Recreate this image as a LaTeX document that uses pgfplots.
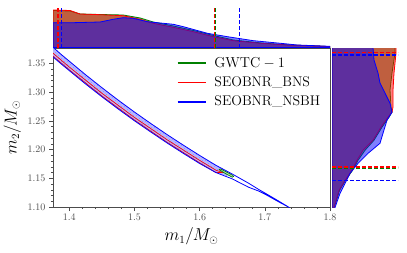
\documentclass[border=0pt]{standalone}
\usepackage{pgfplots}
\pgfplotsset{compat=1.18}
\usetikzlibrary{patterns}
\definecolor{mgreen}{RGB}{0,128,0}
\definecolor{mred}{RGB}{255,0,0}
\definecolor{mblue}{RGB}{0,0,255}
\begin{document}
\begin{tikzpicture}
\useasboundingbox (0pt,0pt) rectangle (407pt,-252pt);
% ---------------- top marginal ----------------
\begin{axis}[at={(53pt,-47.5pt)}, anchor=south west, scale only axis,
  width=277pt, height=39.5pt, xmin=1.375, xmax=1.8, ymin=0, ymax=39.5, hide axis]
\addplot[color=mgreen, line width=0.8pt, fill=mgreen, fill opacity=0.5] coordinates {
(1.375,0)(1.375,37)(1.4012,36.5)(1.4165,33.5)(1.4473,33)(1.4827,32.5)(1.5088,29.5)(1.5288,25.5)(1.5596,21.5)(1.5904,17)(1.6212,12)(1.6519,7.5)(1.6935,4.6)(1.735,2.6)(1.7812,1.5)(1.8,0.8)(1.8,0)(1.375,0)};
\addplot[color=mred, line width=0.8pt, fill=mred, fill opacity=0.5] coordinates {
(1.375,0)(1.375,37.5)(1.4012,37)(1.4165,33.5)(1.4473,32.8)(1.4827,31.8)(1.5088,28.2)(1.5288,24.2)(1.5596,20.2)(1.5904,15.8)(1.6212,10.8)(1.6519,6.8)(1.6935,4.2)(1.735,2.5)(1.7812,1.5)(1.8,0.8)(1.8,0)(1.375,0)};
\addplot[color=mblue, line width=0.8pt, fill=mblue, fill opacity=0.5] coordinates {
(1.375,0)(1.375,24.8)(1.4058,24.8)(1.4473,25.5)(1.4673,28.2)(1.4827,29.8)(1.4981,29.2)(1.5196,25.8)(1.5596,23.2)(1.575,20.8)(1.6119,14.2)(1.6427,10.8)(1.6827,6.8)(1.7242,4.2)(1.75,2.5)(1.8,1.2)(1.8,0)(1.375,0)};
\addplot[color=mgreen, line width=1.3pt, dash pattern=on 4pt off 2pt] coordinates {(1.383,0)(1.383,39.5)};
\addplot[color=mred, line width=1.3pt, dash pattern=on 4pt off 2pt] coordinates {(1.3827,0)(1.3827,39.5)};
\addplot[color=mblue, line width=1.3pt, dash pattern=on 4pt off 2pt] coordinates {(1.3878,0)(1.3878,39.5)};
\addplot[color=mgreen, line width=1.3pt, dash pattern=on 4pt off 2pt] coordinates {(1.6247,0)(1.6247,39.5)};
\addplot[color=mred, line width=1.3pt, dash pattern=on 4pt off 2pt] coordinates {(1.6232,0)(1.6232,39.5)};
\addplot[color=mblue, line width=1.5pt, dash pattern=on 4pt off 2pt] coordinates {(1.6614,0)(1.6614,39.5)};
\end{axis}
% ---------------- right marginal ----------------
\begin{axis}[at={(332pt,-207pt)}, anchor=south west, scale only axis,
  width=66pt, height=159pt, xmin=0, xmax=66, ymin=1.10, ymax=1.377, hide axis]
\addplot[color=mgreen, line width=0.8pt, fill=mgreen, fill opacity=0.5] coordinates {
(0,1.09)(2,1.09)(2,1.099)(4.5,1.1115)(7.5,1.1288)(13.5,1.1463)(20.5,1.1638)(26,1.1813)(33,1.1988)(42,1.2163)(50,1.2390)(57,1.2565)(60,1.2652)(59,1.2740)(58,1.3037)(60,1.3334)(63,1.3684)(63,1.38)(0,1.38)(0,1.09)};
\addplot[color=mred, line width=0.8pt, fill=mred, fill opacity=0.5] coordinates {
(0,1.09)(2,1.09)(2,1.099)(4,1.1115)(7,1.1288)(13,1.1463)(20,1.1638)(25,1.1813)(31,1.1988)(41,1.2163)(49,1.2390)(56,1.2565)(60,1.2652)(61,1.2740)(61,1.3037)(62,1.3334)(64,1.3684)(64,1.38)(0,1.38)(0,1.09)};
\addplot[color=mblue, line width=0.8pt, fill=mblue, fill opacity=0.5] coordinates {
(0,1.09)(3,1.09)(3,1.099)(8,1.1237)(13,1.1410)(18,1.1585)(26,1.1760)(36,1.1935)(48,1.2110)(51,1.2285)(55,1.2512)(60,1.2652)(58,1.2809)(53,1.2984)(48,1.3159)(46,1.3334)(42,1.3561)(41,1.3771)(41,1.38)(0,1.38)(0,1.09)};
\addplot[color=mgreen, line width=1.3pt, dash pattern=on 4pt off 2pt] coordinates {(0,1.1680)(66,1.1680)};
\addplot[color=mred, line width=1.3pt, dash pattern=on 4pt off 2pt] coordinates {(0,1.3689)(66,1.3689)};
\addplot[color=mred, line width=1.3pt, dash pattern=on 4pt off 2pt] coordinates {(0,1.1696)(66,1.1696)};
\addplot[color=mblue, line width=1.3pt, dash pattern=on 4pt off 2pt] coordinates {(0,1.3649)(66,1.3649)};
\addplot[color=mblue, line width=1.3pt, dash pattern=on 4pt off 2pt] coordinates {(0,1.1463)(66,1.1463)};
\end{axis}
% ---------------- main panel ----------------
\begin{axis}[at={(53pt,-207pt)}, anchor=south west, scale only axis,
  width=277pt, height=159pt,
  xmin=1.375, xmax=1.8, ymin=1.10, ymax=1.377,
  xtick={1.4,1.5,1.6,1.7,1.8}, ytick={1.10,1.15,1.20,1.25,1.30,1.35},
  minor x tick num=4, minor y tick num=4,
  tick align=outside, xtick pos=left, ytick pos=left,
  major tick length=4pt, minor tick length=2.2pt,
  axis line style={black!70}, every tick/.style={black!70, line width=0.5pt},
  tick label style={font=\fontsize{10}{12}\selectfont, text=black!70},
  xticklabel style={/pgf/number format/.cd, fixed, precision=1},
  yticklabel style={/pgf/number format/.cd, fixed, fixed zerofill, precision=2},
  xlabel={$m_1/M_\odot$}, ylabel={$m_2/M_\odot$},
  label style={font=\fontsize{16}{18}\selectfont},
  legend style={at={(0.435,0.968)}, anchor=north west, draw=none, fill=none,
    font=\fontsize{14}{16}\selectfont, row sep=4pt,
    /tikz/every odd column/.append style={column sep=6pt}},
  legend cell align=left,
  legend image code/.code={\draw[#1] (0pt,0pt) -- (28pt,0pt);},
]
% blue filled region
\addplot[draw=none, fill=mblue!27, forget plot] coordinates {
(1.37,1.3833)(1.375,1.3783)(1.3875,1.3658)(1.40,1.3540)(1.425,1.3304)(1.45,1.3079)(1.475,1.2862)(1.50,1.2654)(1.525,1.2455)(1.55,1.2262)(1.575,1.2077)(1.60,1.1898)(1.625,1.1726)(1.64,1.1628)(1.648,1.1560)
(1.64,1.1545)(1.625,1.1600)(1.60,1.1758)(1.575,1.1934)(1.55,1.2116)(1.525,1.2307)(1.50,1.2502)(1.475,1.2708)(1.45,1.2921)(1.425,1.3143)(1.40,1.3376)(1.3875,1.3493)(1.375,1.3615)(1.37,1.3664)(1.37,1.3833)};
\addplot[draw=none, pattern=crosshatch dots, pattern color=mblue!45, forget plot] coordinates {
(1.37,1.3833)(1.375,1.3783)(1.3875,1.3658)(1.40,1.3540)(1.425,1.3304)(1.45,1.3079)(1.475,1.2862)(1.50,1.2654)(1.525,1.2455)(1.55,1.2262)(1.575,1.2077)(1.60,1.1898)(1.625,1.1726)(1.64,1.1628)(1.648,1.1560)
(1.64,1.1545)(1.625,1.1600)(1.60,1.1758)(1.575,1.1934)(1.55,1.2116)(1.525,1.2307)(1.50,1.2502)(1.475,1.2708)(1.45,1.2921)(1.425,1.3143)(1.40,1.3376)(1.3875,1.3493)(1.375,1.3615)(1.37,1.3664)(1.37,1.3833)};
% red contour
\addplot[color=mred, line width=0.7pt, forget plot] coordinates {
(1.37,1.3730)(1.375,1.3680)(1.40,1.3438)(1.45,1.2982)(1.50,1.2560)(1.55,1.2172)(1.60,1.1812)(1.625,1.1641)(1.636,1.1600)
(1.625,1.1600)(1.60,1.1769)(1.55,1.2128)(1.50,1.2515)(1.45,1.2934)(1.40,1.3389)(1.375,1.3629)(1.37,1.3679)};
% green contour
\addplot[color=mgreen, line width=0.7pt, fill=mgreen!30, forget plot] coordinates {
(1.632,1.1665)(1.642,1.1605)(1.651,1.1550)(1.652,1.1530)(1.650,1.1520)(1.640,1.1580)(1.632,1.1635)(1.630,1.1650)(1.632,1.1665)};
% blue outer contour
\addplot[color=mblue, line width=0.8pt, forget plot] coordinates {
(1.37,1.3833)(1.375,1.3783)(1.3875,1.3658)(1.40,1.3540)(1.425,1.3304)(1.45,1.3079)(1.475,1.2862)(1.50,1.2654)(1.525,1.2455)(1.55,1.2262)(1.575,1.2077)(1.60,1.1898)(1.625,1.1726)(1.65,1.1575)(1.675,1.1415)(1.69,1.1310)(1.70,1.1245)(1.72,1.1112)(1.738,1.0988)
(1.72,1.1098)(1.70,1.1225)(1.69,1.1280)(1.675,1.1345)(1.65,1.1490)(1.625,1.1600)(1.60,1.1758)(1.575,1.1934)(1.55,1.2116)(1.525,1.2307)(1.50,1.2502)(1.475,1.2708)(1.45,1.2921)(1.425,1.3143)(1.40,1.3376)(1.3875,1.3493)(1.375,1.3615)(1.37,1.3664)};
\addlegendimage{color=mgreen, line width=1.5pt}
\addlegendentry{$\mathrm{GWTC}-1$}
\addlegendimage{color=mred, line width=1.5pt}
\addlegendentry{SEOBNR\_BNS}
\addlegendimage{color=mblue, line width=1.7pt}
\addlegendentry{SEOBNR\_NSBH}
\end{axis}
\end{tikzpicture}
\end{document}
